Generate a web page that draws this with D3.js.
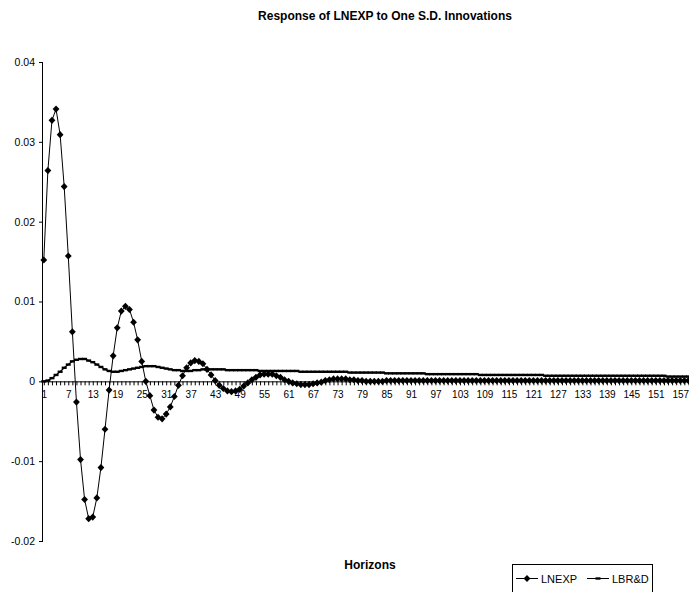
<!DOCTYPE html>
<html>
<head>
<meta charset="utf-8">
<script src="https://cdn.jsdelivr.net/npm/d3@7"></script>
<style>
  html, body { margin:0; padding:0; background:#fff; }
  svg { display:block; font-family: Arial, "Liberation Sans", sans-serif; }
</style>
</head>
<body>
<svg id="chart" width="689" height="592"></svg>
<script>
// impulse responses, horizon 1..160
const lnexp = [
  0.0152, 0.0264, 0.0327, 0.0341, 0.0309, 0.0244, 0.0157, 0.0062, -0.0026, -0.0098,
  -0.0148, -0.0172, -0.0170, -0.0146, -0.0108, -0.0060, -0.0011, 0.0032, 0.0067, 0.0088,
  0.0094, 0.0090, 0.0074, 0.0052, 0.0025, 0.0000, -0.0018, -0.0036, -0.0045, -0.0047,
  -0.0041, -0.0032, -0.0019, -0.0005, 0.0007, 0.0017, 0.0023, 0.0026, 0.0025, 0.0022,
  0.0015, 0.0008, 0.0001, -0.0005, -0.0009, -0.0012, -0.0013, -0.0012, -0.0010, -0.0006,
  -0.0002, 0.0002, 0.0005, 0.0008, 0.0009, 0.0009, 0.0009, 0.0007, 0.0005, 0.0002,
  0.0000, -0.0002, -0.0003, -0.0004, -0.0004, -0.0004, -0.0003, -0.0002, -0.0001, 0.0001,
  0.0002, 0.0003, 0.0003, 0.0003, 0.0003, 0.0002, 0.0002, 0.0001, 0.0001, 0.0000,
  0.0000, 0.0000, 0.0000, 0.0000, 0.0001, 0.0001, 0.0001, 0.0001, 0.0001, 0.0001,
  0.0001, 0.0001, 0.0001, 0.0001, 0.0001, 0.0001, 0.0001, 0.0001, 0.0001, 0.0001,
  0.0001, 0.0001, 0.0001, 0.0001, 0.0001, 0.0001, 0.0001, 0.0001, 0.0001, 0.0001,
  0.0001, 0.0001, 0.0001, 0.0001, 0.0001, 0.0001, 0.0001, 0.0001, 0.0001, 0.0001,
  0.0001, 0.0001, 0.0001, 0.0001, 0.0001, 0.0001, 0.0001, 0.0001, 0.0001, 0.0001,
  0.0001, 0.0001, 0.0001, 0.0001, 0.0001, 0.0001, 0.0001, 0.0001, 0.0001, 0.0001,
  0.0001, 0.0001, 0.0001, 0.0001, 0.0001, 0.0001, 0.0001, 0.0001, 0.0001, 0.0001,
  0.0001, 0.0001, 0.0001, 0.0001, 0.0001, 0.0001, 0.0001, 0.0001, 0.0001, 0.0001
];
const lbrd = [
  0.0000, 0.0001, 0.0004, 0.0008, 0.0012, 0.0017, 0.0021, 0.0025, 0.0027, 0.0028,
  0.0028, 0.0026, 0.0024, 0.0021, 0.0018, 0.0015, 0.0013, 0.0012, 0.0012, 0.0013,
  0.0014, 0.0015, 0.0016, 0.0017, 0.0018, 0.0019, 0.0019, 0.0019, 0.0018, 0.0017,
  0.0016, 0.0015, 0.0014, 0.0014, 0.0013, 0.0013, 0.0013, 0.0014, 0.0014, 0.0015,
  0.0015, 0.0015, 0.0015, 0.0015, 0.0015, 0.0014, 0.0014, 0.0014, 0.0014, 0.0014,
  0.0014, 0.0014, 0.0014, 0.0013, 0.0013, 0.0013, 0.0013, 0.0013, 0.0013, 0.0013,
  0.0013, 0.0013, 0.0013, 0.0012, 0.0012, 0.0012, 0.0012, 0.0012, 0.0012, 0.0012,
  0.0012, 0.0012, 0.0012, 0.0012, 0.0012, 0.0011, 0.0011, 0.0011, 0.0011, 0.0011,
  0.0011, 0.0011, 0.0011, 0.0011, 0.0010, 0.0010, 0.0010, 0.0010, 0.0010, 0.0010,
  0.0010, 0.0010, 0.0010, 0.0010, 0.0009, 0.0009, 0.0009, 0.0009, 0.0009, 0.0009,
  0.0009, 0.0009, 0.0009, 0.0009, 0.0009, 0.0009, 0.0009, 0.0008, 0.0008, 0.0008,
  0.0008, 0.0008, 0.0008, 0.0008, 0.0008, 0.0008, 0.0008, 0.0008, 0.0008, 0.0008,
  0.0008, 0.0008, 0.0008, 0.0007, 0.0007, 0.0007, 0.0007, 0.0007, 0.0007, 0.0007,
  0.0007, 0.0007, 0.0007, 0.0007, 0.0007, 0.0007, 0.0007, 0.0007, 0.0007, 0.0007,
  0.0007, 0.0007, 0.0007, 0.0007, 0.0007, 0.0007, 0.0007, 0.0007, 0.0007, 0.0007,
  0.0007, 0.0007, 0.0007, 0.0006, 0.0006, 0.0006, 0.0006, 0.0006, 0.0006, 0.0006
];
const horizons = d3.range(1, lnexp.length + 1);
const xTickLabels = horizons.filter((h) => (h - 1) % 6 === 0);   // 1, 7, 13 ... 157
const yTicks = [-0.02, -0.01, 0, 0.01, 0.02, 0.03, 0.04];
const yTickLabels = ['-0.02', '-0.01', '0', '0.01', '0.02', '0.03', '0.04'];
const seriesNames = ['LNEXP', 'LBR&D'];

const svg = d3.select('#chart');
const FONT = 'Arial, "Liberation Sans", sans-serif';

// category axis: points sit on the tick marks, ~4.08px per horizon
const x = d3.scaleLinear().domain([1, 160]).range([43.8, 43.8 + 159 * 4.08]);
const y = d3.scaleLinear().domain([-0.02, 0.04]).range([541, 62]);

svg.append('text')
  .attr('x', 385).attr('y', 20)
  .attr('text-anchor', 'middle')
  .attr('font-size', 12).attr('font-weight', 'bold')
  .text('Response of LNEXP to One S.D. Innovations');

// y axis
const yAxis = d3.axisLeft(y).tickValues(yTicks)
  .tickFormat((d, i) => yTickLabels[i]).tickSize(4).tickPadding(4);
svg.append('g').attr('transform', 'translate(43,0)').call(yAxis)
  .call((g) => g.select('.domain').attr('stroke', '#000').attr('d', `M-0.5,${y(0.04)}V${y(-0.02)}`))
  .call((g) => g.selectAll('text').attr('font-size', 10.5).attr('font-family', FONT).attr('fill', '#000'));

// x axis at zero, a tick per horizon, a label every sixth
const xAxis = d3.axisBottom(x).tickValues(horizons)
  .tickFormat((d) => (xTickLabels.includes(d) ? d : '')).tickSize(4).tickPadding(6);
svg.append('g').attr('transform', `translate(0,${y(0)})`).call(xAxis)
  .call((g) => g.select('.domain').attr('stroke', '#000').attr('d', `M43,0.5H689`))
  .call((g) => g.selectAll('line').attr('stroke', '#000'))
  .call((g) => g.selectAll('text').attr('font-size', 10).attr('font-family', FONT).attr('fill', '#000'));

const line = d3.line().x((d, i) => x(horizons[i])).y((d) => y(d));

// LBR&D: line with dash markers
svg.append('path').datum(lbrd)
  .attr('d', line).attr('fill', 'none').attr('stroke', '#000').attr('stroke-width', 1.2);
svg.append('g').selectAll('rect').data(lbrd).join('rect')
  .attr('x', (d, i) => x(horizons[i]) - 2.5).attr('y', (d) => y(d) - 1.2)
  .attr('width', 5).attr('height', 2.4).attr('fill', '#000');

// LNEXP: line with diamond markers
svg.append('path').datum(lnexp)
  .attr('d', line).attr('fill', 'none').attr('stroke', '#000').attr('stroke-width', 1);
const diamond = 'M0,-3.6L3.4,0L0,3.6L-3.4,0Z';
svg.append('g').selectAll('path').data(lnexp).join('path')
  .attr('transform', (d, i) => `translate(${x(horizons[i])},${y(d)})`)
  .attr('d', diamond).attr('fill', '#000');

svg.append('text')
  .attr('x', 370).attr('y', 569)
  .attr('text-anchor', 'middle')
  .attr('font-size', 12).attr('font-weight', 'bold')
  .text('Horizons');

// legend, its lower edge runs off the picture
const lg = svg.append('g');
lg.append('rect').attr('x', 512.5).attr('y', 564.5).attr('width', 140).attr('height', 40)
  .attr('fill', '#fff').attr('stroke', '#000');
lg.append('line').attr('x1', 516).attr('x2', 538).attr('y1', 578.5).attr('y2', 578.5).attr('stroke', '#000');
lg.append('path').attr('transform', 'translate(527,578.5)').attr('d', diamond).attr('fill', '#000');
lg.append('text').attr('x', 541).attr('y', 582.5).attr('font-size', 11).text(seriesNames[0]);
lg.append('line').attr('x1', 587).attr('x2', 609).attr('y1', 578.5).attr('y2', 578.5).attr('stroke', '#000');
lg.append('rect').attr('x', 595.5).attr('y', 577.3).attr('width', 5).attr('height', 2.4).attr('fill', '#000');
lg.append('text').attr('x', 612).attr('y', 582.5).attr('font-size', 11).text(seriesNames[1]);
</script>
</body>
</html>
